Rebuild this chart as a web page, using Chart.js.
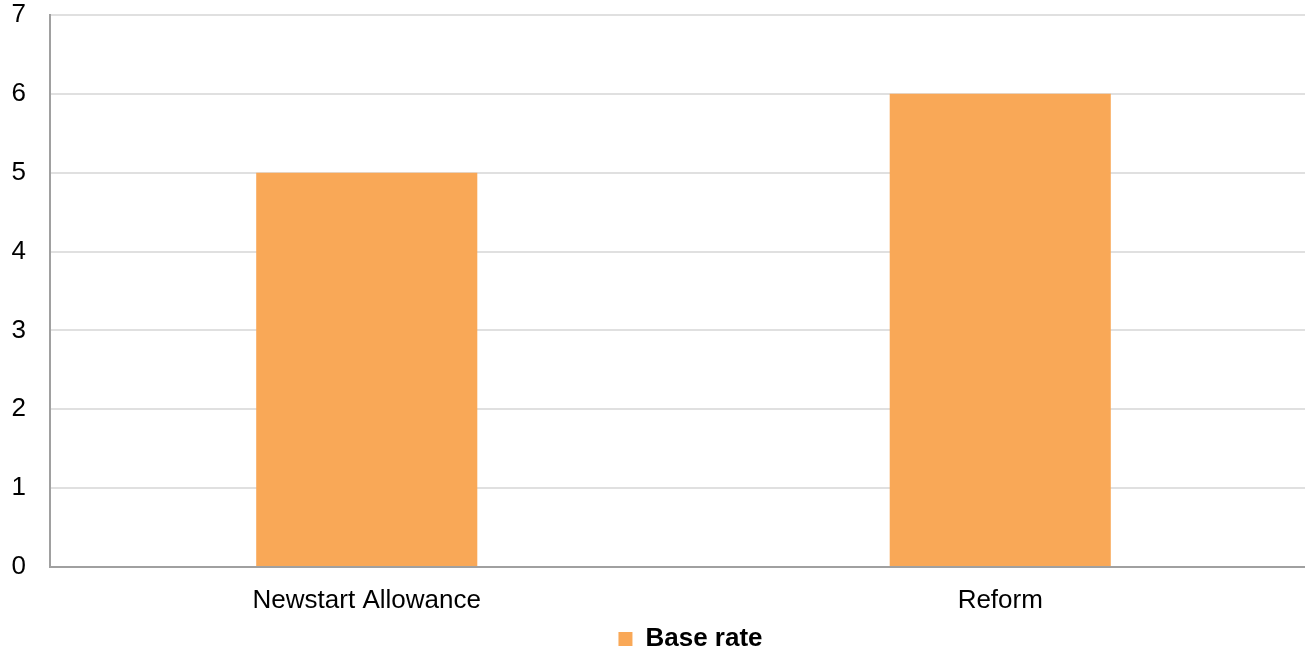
<!DOCTYPE html>
<html>
<head>
<meta charset="utf-8">
<script src="https://cdn.jsdelivr.net/npm/chart.js@4/dist/chart.umd.min.js"></script>
<style>
  html, body { margin: 0; padding: 0; background: #fff; overflow: hidden; }
  #wrap { width: 1317px; height: 649px; position: relative; }
</style>
</head>
<body>
<div id="wrap"><canvas id="c"></canvas></div>
<script>
const categories = ['Newstart Allowance', 'Reform'];
const baseRate = [5, 6];
const yTicks = [0, 1, 2, 3, 4, 5, 6, 7];

const FONT = "'Liberation Sans', Arial, sans-serif";

// Move the legend a little right and down from its default slot
const legendShift = {
  id: 'legendShift',
  afterLayout(chart) {
    const lg = chart.legend;
    if (!lg) return;
    lg.left += 32;
    lg.right += 32;
    lg.top += 13;
    lg.bottom += 13;
  }
};

new Chart(document.getElementById('c'), {
  type: 'bar',
  data: {
    labels: categories,
    datasets: [{
      label: 'Base rate',
      data: baseRate,
      backgroundColor: '#F9A857',
      borderWidth: 0,
      barPercentage: 1,
      categoryPercentage: 0.349
    }]
  },
  plugins: [legendShift],
  options: {
    responsive: true,
    maintainAspectRatio: false,
    animation: false,
    layout: { padding: { top: 15, right: 0, bottom: 0, left: 0 } },
    plugins: {
      tooltip: { enabled: false },
      legend: {
        position: 'bottom',
        labels: {
          color: '#000',
          font: { family: FONT, size: 26, weight: 'bold' },
          boxWidth: 14,
          boxHeight: 14,
          padding: 4
        }
      }
    },
    scales: {
      x: {
        afterFit(scale) { scale.height = 42; },
        grid: { display: false, drawTicks: false },
        border: { color: '#a0a0a0', width: 2 },
        ticks: {
          color: '#000',
          padding: 18,
          font: { family: FONT, size: 26 }
        }
      },
      y: {
        min: 0,
        max: 7,
        afterFit(scale) {
          scale.width = 50;
          scale.paddingTop = 0;
          scale.paddingBottom = 0;
        },
        afterBuildTicks(scale) { scale.ticks = yTicks.map(v => ({ value: v })); },
        grid: { color: '#e0e0e0', lineWidth: 2, drawTicks: false },
        border: { color: '#a0a0a0', width: 2 },
        ticks: {
          color: '#000',
          padding: 24,
          font: { family: FONT, size: 26 }
        }
      }
    }
  }
});
</script>
</body>
</html>
